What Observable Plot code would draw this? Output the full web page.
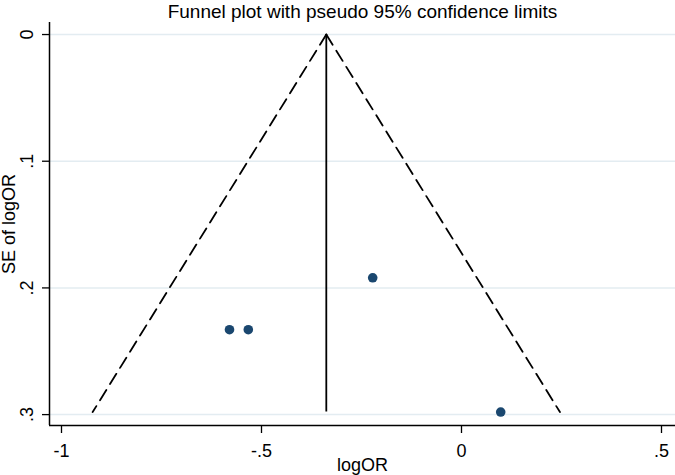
<!DOCTYPE html>
<html>
<head>
<meta charset="utf-8">
<script src="https://cdn.jsdelivr.net/npm/d3@7"></script>
<script src="https://cdn.jsdelivr.net/npm/@observablehq/plot@0.6"></script>
<style>
  html, body { margin: 0; padding: 0; background: #ffffff; }
  #chart svg { display: block; }
</style>
</head>
<body>
<div id="chart"></div>
<script>
// ---- data ----
const studyLogOR = [-0.580, -0.533, -0.222, 0.098];
const studySE    = [0.233, 0.233, 0.192, 0.298];
const pooledLogOR = -0.338;           // fixed-effect estimate (vertical line)
const xTicks = [-1, -0.5, 0, 0.5];
const xTickLabels = ["-1", "-.5", "0", ".5"];
const yTicks = [0, 0.1, 0.2, 0.3];
const yTickLabels = ["0", ".1", ".2", ".3"];
const titleText = "Funnel plot with pseudo 95% confidence limits";
const xTitle = "logOR";
const yTitle = "SE of logOR";

// ---- derived tables ----
const studies = studyLogOR.map((x, i) => ({x, se: studySE[i]}));
const maxSE = d3.max(studySE);
const funnelLeft  = [{x: pooledLogOR, se: 0}, {x: pooledLogOR - 1.96 * maxSE, se: maxSE}];
const funnelRight = [{x: pooledLogOR, se: 0}, {x: pooledLogOR + 1.96 * maxSE, se: maxSE}];
const xDomain = [-1.03, 0.535];
const yDomain = [-0.0095, 0.3086];

const font = "'Liberation Sans', Arial, sans-serif";

const chart = Plot.plot({
  width: 675,
  height: 475,
  marginTop: 22,
  marginLeft: 49,
  marginRight: 0,
  marginBottom: 50,
  style: {fontFamily: font, color: "#000", background: "#fff"},
  x: {domain: xDomain},
  y: {domain: yDomain, reverse: true},
  marks: [
    Plot.gridY(yTicks, {stroke: "#e3ecf1", strokeOpacity: 1, strokeWidth: 1.5}),
    // funnel limits
    Plot.line(funnelLeft,  {x: "x", y: "se", stroke: "#000", strokeWidth: 1.8, strokeDasharray: "12,7"}),
    Plot.line(funnelRight, {x: "x", y: "se", stroke: "#000", strokeWidth: 1.8, strokeDasharray: "12,7"}),
    // pooled estimate
    Plot.ruleX([pooledLogOR], {y1: 0, y2: maxSE, stroke: "#000", strokeWidth: 1.8}),
    // studies
    Plot.dot(studies, {x: "x", y: "se", r: 4.8, fill: "#1a476f", stroke: "none"}),
    // axis lines
    Plot.ruleX([xDomain[0]], {stroke: "#000", strokeWidth: 1.5}),
    Plot.ruleY([yDomain[1]], {stroke: "#000", strokeWidth: 1.5}),
    // x axis
    Plot.axisX(xTicks, {
      tickSize: 8, tickPadding: 11, fontSize: 18, label: null,
      tickFormat: (d) => xTickLabels[xTicks.indexOf(d)], stroke: "#000", strokeWidth: 1.3
    }),
    // y axis ticks (labels drawn rotated below)
    Plot.axisY(yTicks, {
      tickSize: 7, label: null, tickFormat: () => "", stroke: "#000", strokeWidth: 1.3
    }),
    Plot.text(yTicks, {
      y: (d) => d, text: (d, i) => yTickLabels[i], frameAnchor: "left", dx: -22,
      rotate: -90, textAnchor: "middle", lineAnchor: "middle", fontSize: 18, fill: "#000"
    }),
    // titles
    Plot.text([yTitle], {frameAnchor: "left", dx: -40, rotate: -90, fontSize: 18, fill: "#000",
      textAnchor: "middle", lineAnchor: "middle"}),
    Plot.text([xTitle], {frameAnchor: "bottom", dy: 40, fontSize: 18, fill: "#000",
      textAnchor: "middle", lineAnchor: "middle"}),
    Plot.text([titleText], {frameAnchor: "top", dy: -11, fontSize: 19, fill: "#000",
      textAnchor: "middle", lineAnchor: "middle"})
  ]
});
document.getElementById("chart").appendChild(chart);
</script>
</body>
</html>
